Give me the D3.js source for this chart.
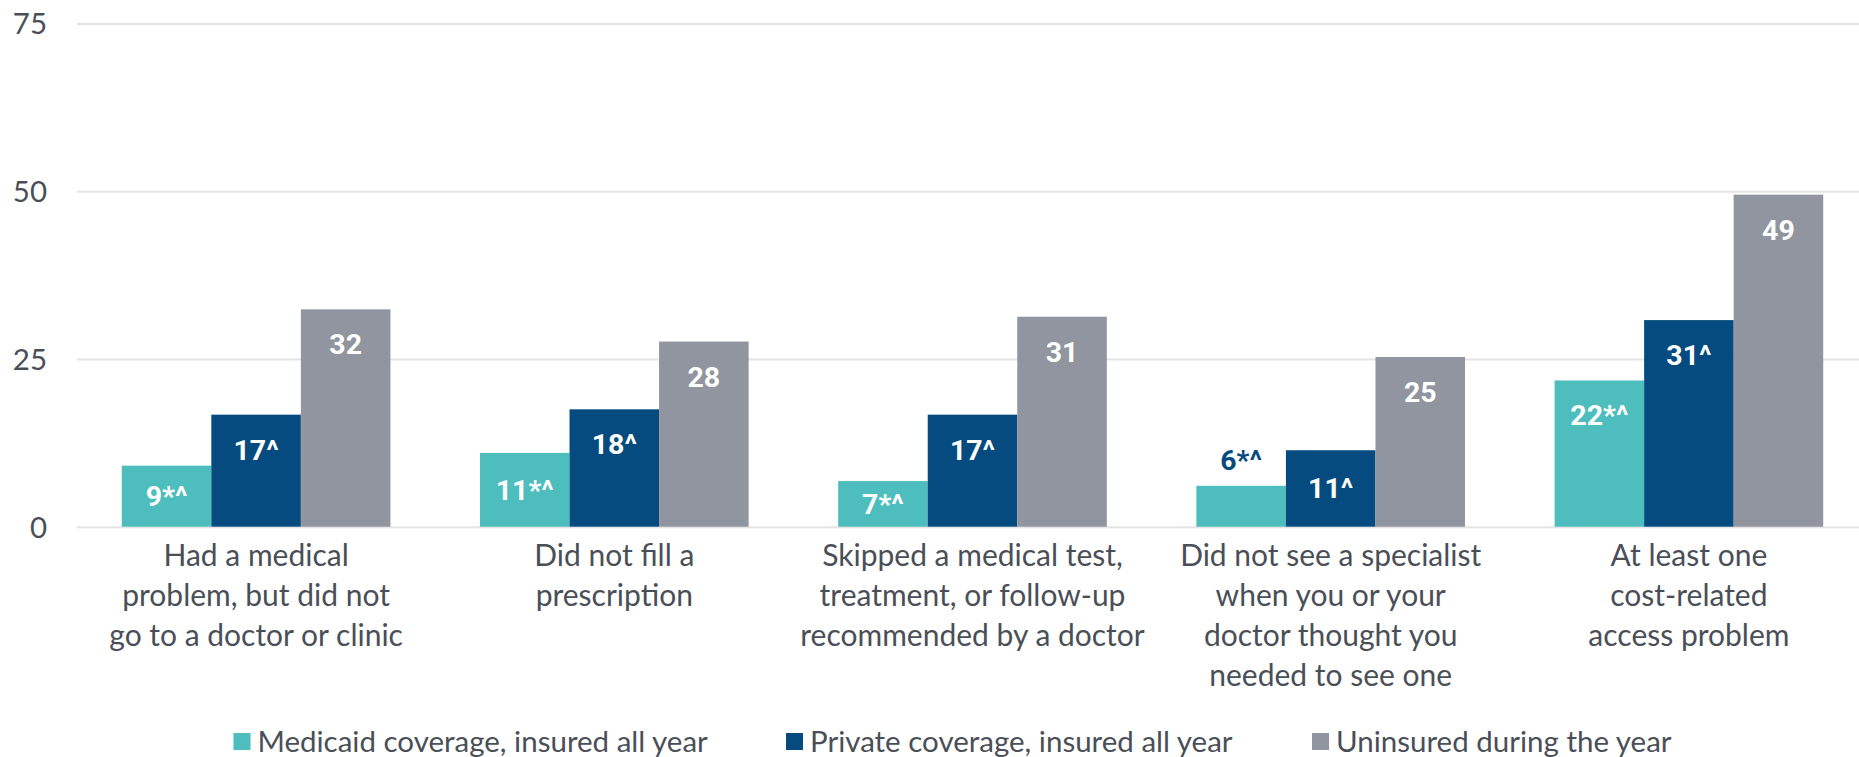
<!DOCTYPE html>
<html><head><meta charset="utf-8">
<script src="https://cdn.jsdelivr.net/npm/d3@7"></script>
<style>body{margin:0;background:#fff;} svg{display:block;}</style>
</head><body>
<svg id="chart" width="1859" height="757"></svg>
<script>
const categories = [
  ["Had a medical", "problem, but did not", "go to a doctor or clinic"],
  ["Did not fill a", "prescription"],
  ["Skipped a medical test,", "treatment, or follow-up", "recommended by a doctor"],
  ["Did not see a specialist", "when you or your", "doctor thought you", "needed to see one"],
  ["At least one", "cost-related", "access problem"]
];
const seriesNames = ["Medicaid coverage, insured all year", "Private coverage, insured all year", "Uninsured during the year"];
const medicaid = [9.1, 11.0, 6.8, 6.1, 21.8];
const privateCov = [16.7, 17.5, 16.7, 11.4, 30.8];
const uninsured = [32.4, 27.6, 31.3, 25.3, 49.5];
const medicaidLabels = ["9*^", "11*^", "7*^", "6*^", "22*^"];
const privateLabels = ["17^", "18^", "17^", "11^", "31^"];
const uninsuredLabels = ["32", "28", "31", "25", "49"];
const yTicks = [0, 25, 50, 75];

const colors = ["#4dbdbd", "#054b7f", "#9095a0"];
const values = [medicaid, privateCov, uninsured];
const labels = [medicaidLabels, privateLabels, uninsuredLabels];

const svg = d3.select("#chart");
const x0 = d3.scaleBand().domain(d3.range(categories.length)).range([77, 1868]).paddingInner(0.25).paddingOuter(0.125);
const x1 = d3.scaleBand().domain(d3.range(3)).range([0, x0.bandwidth()]);
const y = d3.scaleLinear().domain([0, 75]).range([526.7, 23.6]);

// gridlines
const yAxis = d3.axisLeft(y).tickValues(yTicks).tickSize(-(1859 - 77)).tickPadding(30);
const ga = svg.append("g").attr("transform", "translate(77,0)").call(yAxis);
ga.select(".domain").remove();
ga.selectAll(".tick line").attr("stroke", "#e4e4e6").attr("stroke-width", 2);
ga.selectAll(".tick text").attr("fill", "#4a4f57").attr("font-family", "Lato").attr("font-size", 29.5).attr("dy", "0.35em");

// bars
const groups = svg.append("g").selectAll("g").data(categories).join("g")
  .attr("transform", (d, i) => `translate(${x0(i)},0)`);
groups.each(function(cat, i) {
  const g = d3.select(this);
  for (let s = 0; s < 3; s++) {
    const v = values[s][i];
    const top = y(v), h = y(0) - top;
    g.append("rect").attr("x", x1(s)).attr("y", top).attr("width", x1.bandwidth()).attr("height", h).attr("fill", colors[s]);
    let ly, fill = "#fff";
    if (h >= 88) ly = top + 45;
    else if (h >= 44) ly = top + h / 2 + 10;
    else { ly = top - 16; fill = colors[1]; }
    g.append("text").attr("x", x1(s) + x1.bandwidth() / 2).attr("y", ly)
      .attr("text-anchor", "middle").attr("font-family", "Roboto").attr("font-weight", 700)
      .attr("font-size", 28.5).attr("fill", fill).text(labels[s][i]);
  }
  const t = g.append("text").attr("text-anchor", "middle").attr("font-family", "Lato")
    .attr("font-size", 30).attr("fill", "#4a4f57");
  cat.forEach((line, k) => {
    t.append("tspan").attr("x", x0.bandwidth() / 2).attr("y", 566 + k * 40).text(line);
  });
});

// legend
const legendX = [233.5, 786, 1312];
const lg = svg.append("g").selectAll("g").data(seriesNames).join("g")
  .attr("transform", (d, i) => `translate(${legendX[i]},0)`);
lg.append("rect").attr("x", 0).attr("y", 733).attr("width", 17).attr("height", 17).attr("fill", (d, i) => colors[i]);
lg.append("text").attr("x", 24).attr("y", 752).attr("font-family", "Lato").attr("font-size", 29.5)
  .attr("fill", "#4a4f57").text(d => d);
</script>
</body></html>
